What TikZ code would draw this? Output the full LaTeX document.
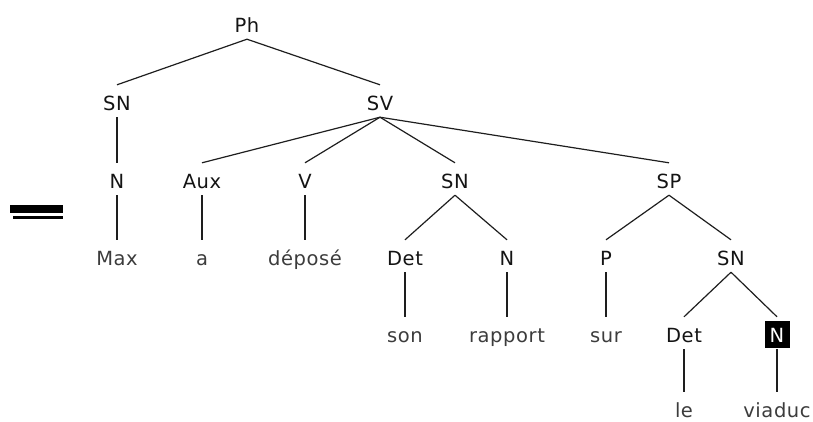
\documentclass[tikz,border=0pt]{standalone}
\usepackage{fontspec}
\setmainfont{DejaVu Sans}[LetterSpace=3]
\usetikzlibrary{backgrounds}
\definecolor{lab}{HTML}{141414}
\definecolor{leaf}{HTML}{3C3C3C}
\definecolor{edge}{HTML}{1E1E1E}
\tikzset{
  cat/.style={inner sep=0pt, text height=25pt, text depth=7pt, anchor=base, text=lab, font=\fontsize{19.5}{19.5}\selectfont},
  word/.style={cat, text=leaf},
  lastword/.style={word, text depth=1pt},
  br/.style={draw=edge, line width=1.2pt},
}
\begin{document}
\begin{tikzpicture}[x=1pt,y=-1pt]
\useasboundingbox (0,0) rectangle (813,421);
% level 0
\node[cat] (Ph) at (247,32) {Ph};
% level 1
\node[cat] (SNa) at (117,110) {SN};
\node[cat] (SV) at (380,110) {SV};
% level 2
\node[cat] (Na) at (117,188) {N};
\node[cat] (Aux) at (202,188) {Aux};
\node[cat] (V) at (305,188) {V};
\node[cat] (SNb) at (455,188) {SN};
\node[cat] (SP) at (669,188) {SP};
% level 3
\node[word] (Max) at (117,265) {Max};
\node[word] (a) at (202,265) {a};
\node[word] (depose) at (305,265) {déposé};
\node[cat] (Deta) at (405,265) {Det};
\node[cat] (Nb) at (507,265) {N};
\node[cat] (P) at (606,265) {P};
\node[cat] (SNc) at (731,265) {SN};
% level 4
\node[word] (son) at (405,342) {son};
\node[word] (rapport) at (507,342) {rapport};
\node[word] (sur) at (606,342) {sur};
\node[cat] (Detb) at (684,342) {Det};
\node[cat, text=white] (Nc) at (777,342) {N};
% level 5
\node[lastword] (le) at (684,417) {le};
\node[lastword] (viaduc) at (777,417) {viaduc};
\begin{scope}[on background layer]
\fill[black] ([xshift=-12.5pt,yshift=-6pt]Nc.base) rectangle ([xshift=12.5pt,yshift=21pt]Nc.base);
\end{scope}
% edges
\draw[br] (Ph.south) -- (SNa.north);
\draw[br] (Ph.south) -- (SV.north);
\draw[br] (SNa.south) -- (Na.north);
\draw[br] (SV.south) -- (Aux.north);
\draw[br] (SV.south) -- (V.north);
\draw[br] (SV.south) -- (SNb.north);
\draw[br] (SV.south) -- (SP.north);
\draw[br] (Na.south) -- (Max.north);
\draw[br] (Aux.south) -- (a.north);
\draw[br] (V.south) -- (depose.north);
\draw[br] (SNb.south) -- (Deta.north);
\draw[br] (SNb.south) -- (Nb.north);
\draw[br] (SP.south) -- (P.north);
\draw[br] (SP.south) -- (SNc.north);
\draw[br] (Deta.south) -- (son.north);
\draw[br] (Nb.south) -- (rapport.north);
\draw[br] (P.south) -- (sur.north);
\draw[br] (SNc.south) -- (Detb.north);
\draw[br] (SNc.south) -- (Nc.north);
\draw[br] (Detb.south) -- (le.north);
\draw[br] (Nc.south) -- (viaduc.north);
% double bar
\fill[black] (10,205) rectangle (63,213);
\fill[black] (13,216) rectangle (63,218.5);
\end{tikzpicture}
\end{document}
